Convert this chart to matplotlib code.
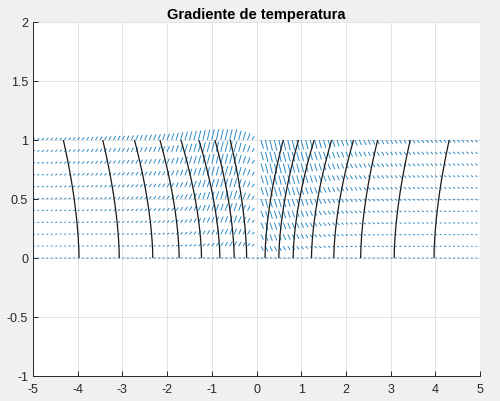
import numpy as np
import matplotlib
matplotlib.use("Agg")
from matplotlib import pyplot as plt

plt.rcParams['font.family'] = ['Liberation Sans', 'DejaVu Sans']

# isotherm positions |x| read at y=0 (bottom) and y=1 (top)
left_bot = [0.22, 0.50, 0.82, 1.23, 1.73, 2.32, 3.07, 3.97]
left_top = [0.59, 0.93, 1.29, 1.69, 2.16, 2.73, 3.44, 4.32]
right_bot = [0.19, 0.50, 0.82, 1.23, 1.73, 2.33, 3.08, 3.97]
right_top = [0.60, 0.94, 1.29, 1.68, 2.17, 2.71, 3.44, 4.31]
levels = [1, 2, 3, 4, 5, 6, 7, 8]

# arrow sizes (pixels) read at |x| sample points
ax_pts = [0.0, 0.1, 0.2, 0.5, 1.0, 1.5, 2.0, 3.0, 4.0, 5.0]
v_left = [0.0, 4.0, 7.0, 11.0, 11.0, 9.0, 6.5, 4.5, 3.0, 2.0]
v_right = [0.0, 9.0, 11.0, 11.0, 10.0, 8.0, 6.0, 4.0, 3.0, 2.5]
u_px = [0.0, 2.6, 2.6, 2.6, 2.5, 2.5, 2.4, 2.3, 2.2, 2.0]
y_pow = [0.3, 0.3, 0.3, 0.35, 0.5, 0.7, 0.9, 1.0, 1.0, 1.0]

# quiver grid
xq = np.round(np.arange(-5, 5.0001, 0.1), 2)
yq = np.round(np.arange(0, 1.0001, 0.1), 2)
XQ, YQ = np.meshgrid(xq, yq)
ax_abs = np.abs(XQ)
vmax = np.where(XQ < 0, np.interp(ax_abs, ax_pts, v_left), np.interp(ax_abs, ax_pts, v_right))
q = np.interp(ax_abs, ax_pts, y_pow)
Vpx = np.where(XQ < 0, 1, -1) * vmax * YQ ** q
Upx = np.interp(ax_abs, ax_pts, u_px)
Upx[0, :] = np.where(ax_abs[0, :] < 0.05, 3.0, Upx[0, :])
# pixels per data unit
U = Upx / 44.7
V = Vpx / 118.0

# temperature field for isotherms
xc = np.linspace(-5, 5, 801)
yc = np.linspace(0, 1, 101)
T = np.zeros((len(yc), len(xc)))
for i, yy in enumerate(yc):
    pl = np.array(left_bot) + (np.array(left_top) - np.array(left_bot)) * yy ** 1.7
    pr = np.array(right_bot) + (np.array(right_top) - np.array(right_bot)) * yy ** 1.7
    tl = np.interp(np.abs(xc), np.r_[0, pl, 6], np.r_[0, levels, 9])
    tr = np.interp(np.abs(xc), np.r_[0, pr, 6], np.r_[0, levels, 9])
    T[i] = np.where(xc < 0, tl, tr)

fig = plt.figure(figsize=(5, 4.02), dpi=100, facecolor='#f0f0f0')
ax = fig.add_axes([0.066, 0.0622, 0.894, 0.8806])
ax.set_facecolor('white')

ax.quiver(XQ, YQ, U, V, angles='xy', scale_units='xy', scale=1, color='#0072BD', alpha=0.85,
          width=0.0021, headwidth=1.5, headlength=1.2, headaxislength=1.1, minlength=0.5, zorder=2)
ax.contour(xc, yc, T, levels=levels, colors='#1a1a1a', linewidths=0.9, zorder=3)

ax.set_xlim(-5, 5)
ax.set_ylim(-1, 2)
ax.set_xticks(np.arange(-5, 6, 1))
ax.set_yticks(np.arange(-1, 2.01, 0.5))
ax.set_xticklabels([str(v) for v in range(-5, 6)])
ax.set_yticklabels(['-1', '-0.5', '0', '0.5', '1', '1.5', '2'])
ax.grid(True, color='#e3e3e3', linewidth=0.7, zorder=0)
ax.set_axisbelow(True)
for s in ['top', 'right']:
    ax.spines[s].set_visible(False)
for s in ['left', 'bottom']:
    ax.spines[s].set_color('#262626')
    ax.spines[s].set_linewidth(0.7)
ax.tick_params(direction='in', length=3.5, width=0.7, colors='#262626', labelsize=9)
ax.tick_params(axis='x', pad=5)
ax.set_title('Gradiente de temperatura', fontsize=10.5, fontweight='bold', color='#000000', pad=3)

plt.savefig('out.png', dpi=100, facecolor=fig.get_facecolor())
